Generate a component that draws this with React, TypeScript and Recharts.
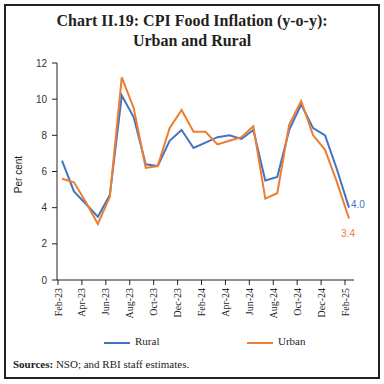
import React from 'react';
import { LineChart, Line, XAxis, YAxis, LabelList } from 'recharts';

const months = [
  'Feb-23', 'Mar-23', 'Apr-23', 'May-23', 'Jun-23', 'Jul-23', 'Aug-23', 'Sep-23', 'Oct-23',
  'Nov-23', 'Dec-23', 'Jan-24', 'Feb-24', 'Mar-24', 'Apr-24', 'May-24', 'Jun-24',
  'Jul-24', 'Aug-24', 'Sep-24', 'Oct-24', 'Nov-24', 'Dec-24', 'Jan-25', 'Feb-25',
];
const rural = [6.6, 4.9, 4.2, 3.5, 4.7, 10.2, 9.0, 6.4, 6.3, 7.7, 8.3, 7.3, 7.6, 7.9, 8.0, 7.8, 8.3, 5.5, 5.7, 8.3, 9.7, 8.4, 8.0, 6.1, 4.0];
const urban = [5.6, 5.4, 4.3, 3.1, 4.6, 11.2, 9.5, 6.2, 6.3, 8.4, 9.4, 8.2, 8.2, 7.5, 7.7, 7.9, 8.5, 4.5, 4.8, 8.6, 9.9, 8.0, 7.2, 5.4, 3.4];
const yTicks = [0, 2, 4, 6, 8, 10, 12];

const data = months.map((m, i) => ({ month: m, rural: rural[i], urban: urban[i] }));

const BLUE = '#4472c4';
const ORANGE = '#ed7d31';
const SERIF = '"Liberation Serif", "DejaVu Serif", serif';
const SANS = '"Liberation Sans", "DejaVu Sans", sans-serif';

const MonthTick = (props: any) => {
  const { x, y, payload } = props;
  const tx = x - 4;
  return (
    <g>
      <line x1={tx} y1={y} x2={tx} y2={y + 5} stroke="#222" strokeWidth={1} />
      <text
        transform={`translate(${tx},${y + 8}) rotate(-90)`}
        textAnchor="end"
        dominantBaseline="central"
        fontFamily={SERIF}
        fontSize={10}
        fill="#222"
      >
        {payload.value}
      </text>
    </g>
  );
};

const endLabel = (color: string, dx: number, dy: number, anchor: string) => (props: any) => {
  const { x, y, value, index } = props;
  if (index !== months.length - 1) return null;
  return (
    <text x={x + dx} y={y + dy} fill={color} fontFamily={SANS} fontSize={10} textAnchor={anchor}>
      {Number(value).toFixed(1)}
    </text>
  );
};

export default function App() {
  return (
    <div style={{ position: 'absolute', left: 0, top: 0, width: 384, height: 384, background: '#fff' }}>
      <div
        style={{
          position: 'absolute', left: 4, top: 4, width: 372, height: 371,
          border: '2.5px solid #222', boxSizing: 'content-box',
        }}
      />
      <div
        style={{
          position: 'absolute', left: 0, top: 11, width: 384, textAlign: 'center',
          fontFamily: SERIF, fontWeight: 700, fontSize: 16, lineHeight: '20px', color: '#231f20',
        }}
      >
        Chart II.19: CPI Food Inflation (y-o-y):
        <br />
        Urban and Rural
      </div>
      <div style={{ position: 'absolute', left: 0, top: 0 }}>
        <LineChart width={384} height={384} data={data} margin={{ top: 63, right: 30, bottom: 74, left: 17 }}>
          <XAxis
            dataKey="month"
            height={30}
            interval={1}
            tick={<MonthTick />}
            tickLine={false}
            tickSize={0}
            tickMargin={0}
            padding={{ left: 5, right: 5 }}
            axisLine={{ stroke: '#222' }}
          />
          <YAxis
            width={40}
            domain={[0, 12]}
            ticks={yTicks}
            tickSize={5}
            tickMargin={5}
            tick={{ fill: '#333', fontFamily: SANS, fontSize: 10 }}
            axisLine={{ stroke: '#222' }}
            tickLine={{ stroke: '#222' }}
            label={{
              content: (p: any) => {
                const vb = p.viewBox;
                const cx = vb.x + 1;
                const cy = vb.y + vb.height / 2 + 3;
                return (
                  <text
                    transform={`translate(${cx},${cy}) rotate(-90)`}
                    textAnchor="middle"
                    dominantBaseline="central"
                    fontFamily={SANS}
                    fontSize={10}
                    fill="#222"
                  >
                    Per cent
                  </text>
                );
              },
            }}
          />
          <Line name="Rural" type="linear" dataKey="rural" stroke={BLUE} strokeWidth={2} dot={false} isAnimationActive={false}>
            <LabelList dataKey="rural" content={endLabel(BLUE, 2, 0, 'start')} />
          </Line>
          <Line name="Urban" type="linear" dataKey="urban" stroke={ORANGE} strokeWidth={2} dot={false} isAnimationActive={false}>
            <LabelList dataKey="urban" content={endLabel(ORANGE, -1, 18, 'middle')} />
          </Line>
        </LineChart>
      </div>
      <div style={{ position: 'absolute', left: 0, top: 335, width: 384, height: 16, fontFamily: SERIF, fontSize: 11, color: '#222' }}>
        <div style={{ position: 'absolute', left: 104, top: 7, width: 26, height: 2, background: BLUE }} />
        <span style={{ position: 'absolute', left: 135, top: 0 }}>Rural</span>
        <div style={{ position: 'absolute', left: 247, top: 7, width: 26, height: 2, background: ORANGE }} />
        <span style={{ position: 'absolute', left: 278, top: 0 }}>Urban</span>
      </div>
      <div
        style={{
          position: 'absolute', left: 13, top: 358, fontFamily: SERIF, fontSize: 11, color: '#222',
        }}
      >
        <b>Sources:</b> NSO; and RBI staff estimates.
      </div>
    </div>
  );
}
